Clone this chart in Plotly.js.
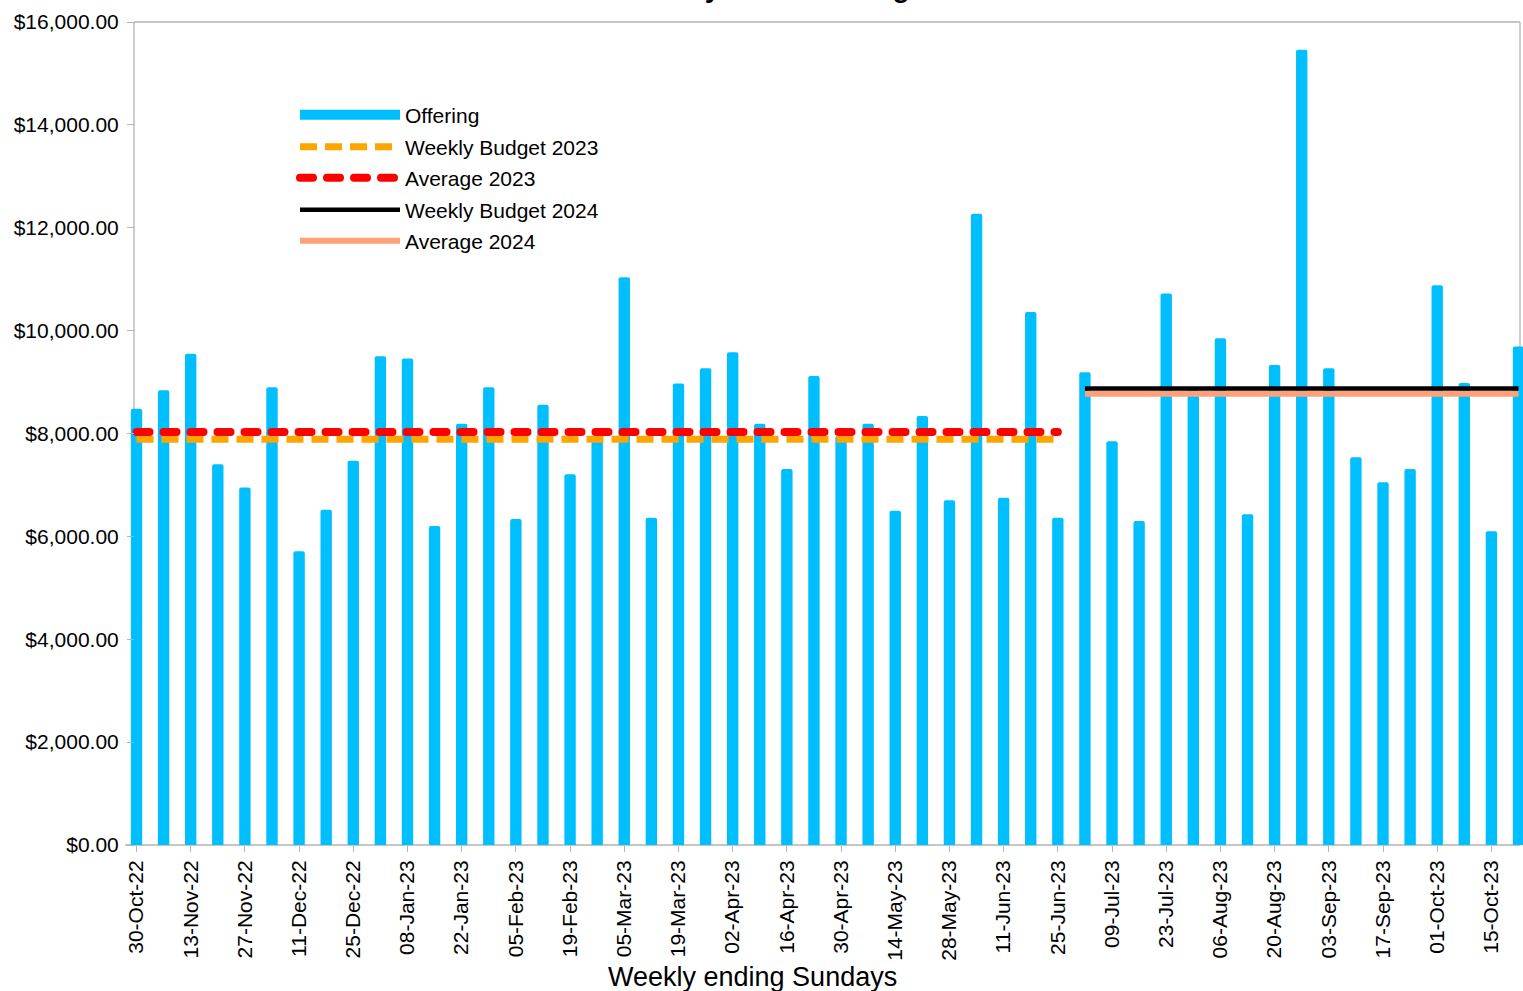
<!DOCTYPE html>
<html><head><meta charset="utf-8">
<script src="https://cdn.plot.ly/plotly-3.0.1.min.js"></script>
<style>
html,body{margin:0;padding:0;background:#fff}
#chart{width:1523px;height:991px}
.traceavg23 .js-line{stroke-linecap:round}
.legend3 .js-line{stroke-linecap:round}
</style>
</head><body><div id="chart"></div>
<script>
// ---- data ----
const weeks = ["30-Oct-22","06-Nov-22","13-Nov-22","20-Nov-22","27-Nov-22","04-Dec-22","11-Dec-22","18-Dec-22","25-Dec-22","01-Jan-23","08-Jan-23","15-Jan-23","22-Jan-23","29-Jan-23","05-Feb-23","12-Feb-23","19-Feb-23","26-Feb-23","05-Mar-23","12-Mar-23","19-Mar-23","26-Mar-23","02-Apr-23","09-Apr-23","16-Apr-23","23-Apr-23","30-Apr-23","07-May-23","14-May-23","21-May-23","28-May-23","04-Jun-23","11-Jun-23","18-Jun-23","25-Jun-23","02-Jul-23","09-Jul-23","16-Jul-23","23-Jul-23","30-Jul-23","06-Aug-23","13-Aug-23","20-Aug-23","27-Aug-23","03-Sep-23","10-Sep-23","17-Sep-23","24-Sep-23","01-Oct-23","08-Oct-23","15-Oct-23","22-Oct-23"];
const offering = [8480, 8840, 9550, 7400, 6950, 8900, 5710, 6520, 7470, 9500,
                  9460, 6200, 8190, 8900, 6340, 8560, 7210, 7950, 11040, 6360,
                  8970, 9270, 9580, 8190, 7310, 9120, 7950, 8190, 6500, 8340,
                  6700, 12270, 6750, 10360, 6360, 9190, 7850, 6300, 10720, 8850,
                  9850, 6430, 9330, 15460, 9270, 7540, 7050, 7310, 10880, 8980,
                  6100, 9690];
const weeks2023 = [weeks[0], weeks[34]];
const weeks2024 = [weeks[35], weeks[51]];
const budget2023 = [7890, 7890];
const average2023 = [8030, 8030];
const budget2024 = [8875, 8875];
const average2024 = [8775, 8775];
const tickLabels = weeks.filter((w, i) => i % 2 === 0);
const yTicks = [0, 2000, 4000, 6000, 8000, 10000, 12000, 14000, 16000];

// ---- layout helpers (pixel -> paper) ----
const L = 128, R = 1523, T = 22, B = 845;
const PX = x => (x - L) / (R - L);
const PY = y => (B - y) / (B - T);

const font = "Liberation Sans, Arial, sans-serif";
const gray = "#b3b3b3";

const traces = [
  {type: "bar", x: weeks, y: offering, width: 0.42, name: "Offering",
   marker: {color: "#00bfff", line: {width: 0}, cornerradius: 2}, showlegend: false, hoverinfo: "x+y"},
  {type: "scatter", mode: "lines", x: [null], y: [null], name: "Offering",
   line: {color: "#00bfff", width: 14}, legend: "legend"},
  {type: "scatter", mode: "lines", x: weeks2023, y: budget2023, name: "Weekly Budget 2023",
   line: {color: "#ffa500", width: 7, dash: "17px,8px"}, legend: "legend2"},
  {type: "scatter", mode: "lines", x: weeks2023, y: average2023, name: "Average 2023", uid: "avg23",
   line: {color: "#ff0000", width: 8, dash: "13px,14px"}, legend: "legend3"},
  {type: "scatter", mode: "lines", x: weeks2024, y: average2024, name: "Average 2024",
   line: {color: "#ffa07a", width: 6}, legend: "legend5"},
  {type: "scatter", mode: "lines", x: weeks2024, y: budget2024, name: "Weekly Budget 2024",
   line: {color: "#000000", width: 4.5}, legend: "legend4"}
];

function leg(yc) {
  return {x: PX(295), y: PY(yc), xanchor: "left", yanchor: "middle", bgcolor: "rgba(0,0,0,0)",
          borderwidth: 0, itemwidth: 100, font: {family: font, size: 21, color: "#000"}};
}

const frame = [
  [134, 845, 134, 22], [134, 22, 1520, 22], [1520, 22, 1520, 845], [125, 845, 1520, 845]
].map(s => ({type: "line", xref: "paper", yref: "paper", layer: "below",
  x0: PX(s[0]), y0: PY(s[1]), x1: PX(s[2]), y1: PY(s[3]), line: {color: gray, width: 1.3}}));

const layout = {
  width: 1523, height: 991,
  margin: {l: L, r: 1523 - R, t: T, b: 991 - B, pad: 0},
  paper_bgcolor: "#fff", plot_bgcolor: "rgba(0,0,0,0)",
  font: {family: font, size: 21, color: "#000"},
  title: {text: "Weekly Total Offering", font: {family: font, size: 28, weight: "bold", color: "#000"},
          xref: "container", x: 767 / 1523, xanchor: "center", yref: "container", y: 1, yanchor: "bottom",
          pad: {b: 3, t: 0, l: 0, r: 0}},
  xaxis: {type: "category", range: [-(136.5 - L) / 27.1, 51 + (R - 1518.5) / 27.1],
          tickmode: "array", tickvals: tickLabels, ticktext: tickLabels, tickangle: -90,
          ticks: "outside", ticklen: 6, tickcolor: gray, tickwidth: 1.3,
          showline: false, showgrid: false, zeroline: false,
          tickfont: {family: font, size: 21, color: "#000"}, fixedrange: true},
  yaxis: {range: [0, 16000], tickmode: "array", tickvals: yTicks, tickformat: "$,.2f",
          anchor: "free", position: PX(134), side: "left",
          ticks: "outside", ticklen: 7, tickcolor: gray, tickwidth: 1.3, ticklabelstandoff: 4,
          showline: false, showgrid: false, zeroline: false,
          tickfont: {family: font, size: 21, color: "#000"}, fixedrange: true},
  bargap: 0.5,
  shapes: frame,
  legend: leg(115), legend2: leg(147), legend3: leg(178), legend4: leg(210), legend5: leg(241),
  annotations: [{text: "Weekly ending Sundays", xref: "paper", yref: "paper", x: PX(752), y: PY(977),
                 xanchor: "center", yanchor: "middle", showarrow: false,
                 font: {family: font, size: 27, color: "#000"}}]
};

Plotly.newPlot("chart", traces, layout, {displayModeBar: false, responsive: false});
</script>
</body></html>
